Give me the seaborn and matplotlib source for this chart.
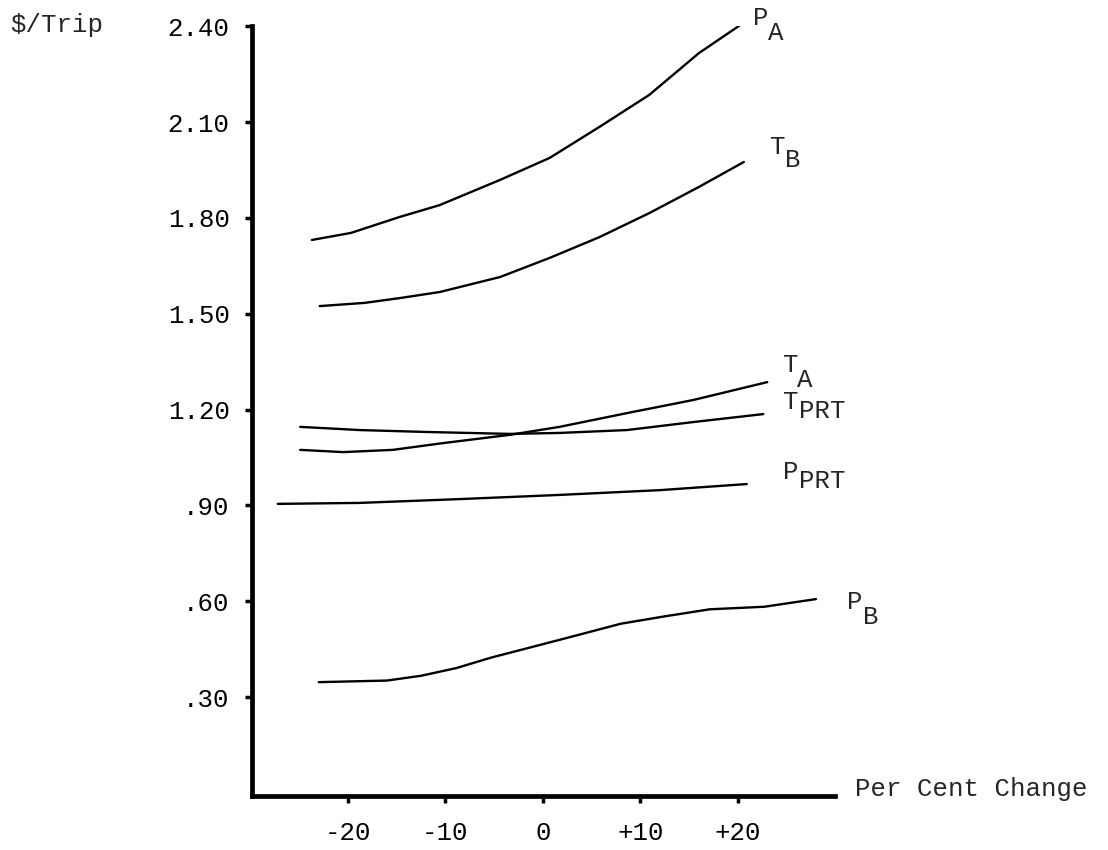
import pandas as pd
import matplotlib
matplotlib.use("Agg")
import matplotlib.pyplot as plt
import seaborn as sns

# Values ($/Trip against per cent change)
pa_x = [-23.7, -19.7, -14.7, -10.6, -4.4, 0.7, 5.8, 10.9, 16.0, 20.4]
pa_y = [1.731, 1.753, 1.803, 1.840, 1.919, 1.988, 2.085, 2.185, 2.316, 2.407]

tb_x = [-22.9, -18.3, -14.7, -10.6, -4.4, 0.7, 5.8, 10.9, 16.0, 20.6]
tb_y = [1.524, 1.534, 1.549, 1.568, 1.615, 1.675, 1.740, 1.815, 1.897, 1.975]

ta_x = [-24.9, -20.5, -15.4, -10.3, -3.4, 1.7, 8.6, 15.4, 23.0]
ta_y = [1.074, 1.067, 1.074, 1.095, 1.121, 1.146, 1.189, 1.230, 1.286]

tprt_x = [-24.9, -18.8, -11.9, -3.4, 1.7, 8.6, 15.4, 22.6]
tprt_y = [1.146, 1.136, 1.130, 1.124, 1.127, 1.136, 1.161, 1.186]

pprt_x = [-27.2, -18.8, -8.5, 1.7, 12.0, 20.9]
pprt_y = [0.905, 0.908, 0.920, 0.933, 0.948, 0.967]

pb_x = [-23.0, -16.0, -12.5, -8.9, -5.3, -1.0, 2.4, 8.0, 12.5, 17.1, 22.7, 28.0]
pb_y = [0.347, 0.352, 0.367, 0.391, 0.424, 0.458, 0.485, 0.530, 0.553, 0.575, 0.583, 0.607]

series = {
    "PA": (pa_x, pa_y, "P", "A"),
    "TB": (tb_x, tb_y, "T", "B"),
    "TA": (ta_x, ta_y, "T", "A"),
    "TPRT": (tprt_x, tprt_y, "T", "PRT"),
    "PPRT": (pprt_x, pprt_y, "P", "PRT"),
    "PB": (pb_x, pb_y, "P", "B"),
}

# label offsets in pixels from the curve end: (letter dx, dy, subscript dx, dy)
label_offsets = {
    "PA": (11, 6, 26, -9),
    "TB": (26, 15, 41, 2),
    "TA": (16, 17, 30, 2),
    "TPRT": (20, 12, 36, 3),
    "PPRT": (36, 12, 52, 3),
    "PB": (31, -3, 47, -18),
}

y_ticks = [0.30, 0.60, 0.90, 1.20, 1.50, 1.80, 2.10, 2.40]
y_labels = [".30", ".60", ".90", "1.20", "1.50", "1.80", "2.10", "2.40"]
x_ticks = [-20, -10, 0, 10, 20]
x_labels = ["-20", "-10", "0", "+10", "+20"]

sns.set_theme(style="white")
plt.rcParams["font.family"] = ["Liberation Mono", "DejaVu Sans Mono"]
FS = 18.5

fig = plt.figure(figsize=(11.08, 8.5), dpi=100)
ax = fig.add_axes([0.2274, 0.0635, 0.5262, 0.9059])

rows = []
for key, (xs, ys, _, _) in series.items():
    for x, y in zip(xs, ys):
        rows.append({"series": key, "change": x, "cost": y})
df = pd.DataFrame(rows)

for key in series:
    sub = df[df["series"] == key]
    sns.lineplot(data=sub, x="change", y="cost", ax=ax, color="black",
                 linewidth=1.7, sort=False, estimator=None, legend=False,
                 solid_joinstyle="round", solid_capstyle="round")

for key, (xs, ys, main, subscript) in series.items():
    mdx, mdy, sdx, sdy = label_offsets[key]
    ax.annotate(main, xy=(xs[-1], ys[-1]), xytext=(mdx, mdy),
                textcoords="offset pixels", ha="left", va="center",
                fontsize=FS, annotation_clip=False)
    ax.annotate(subscript, xy=(xs[-1], ys[-1]), xytext=(sdx, sdy),
                textcoords="offset pixels", ha="left", va="center",
                fontsize=FS, annotation_clip=False)

ax.set_xlim(-29.85, 29.95)
ax.set_ylim(-0.0094, 2.4006)
ax.set_xticks(x_ticks)
ax.set_xticklabels(x_labels, fontsize=FS)
ax.set_yticks(y_ticks)
ax.set_yticklabels(y_labels, fontsize=FS)
ax.set_xlabel("")
ax.set_ylabel("")

for side in ["top", "right"]:
    ax.spines[side].set_visible(False)
for side in ["left", "bottom"]:
    ax.spines[side].set_linewidth(3.4)
    ax.spines[side].set_color("black")

ax.tick_params(axis="y", direction="out", length=5, width=2.5, pad=11,
               colors="black", left=True)
ax.tick_params(axis="x", direction="out", length=5, width=2.5, pad=13,
               colors="black", bottom=True)

fig.text(10 / 1108, 1 - 25 / 850, "$/Trip", fontsize=FS, ha="left",
         va="center")
fig.text(855 / 1108, 1 - 789 / 850, "Per Cent Change", fontsize=FS,
         ha="left", va="center")

fig.savefig("out.png", dpi=100, facecolor="white")
plt.close(fig)
